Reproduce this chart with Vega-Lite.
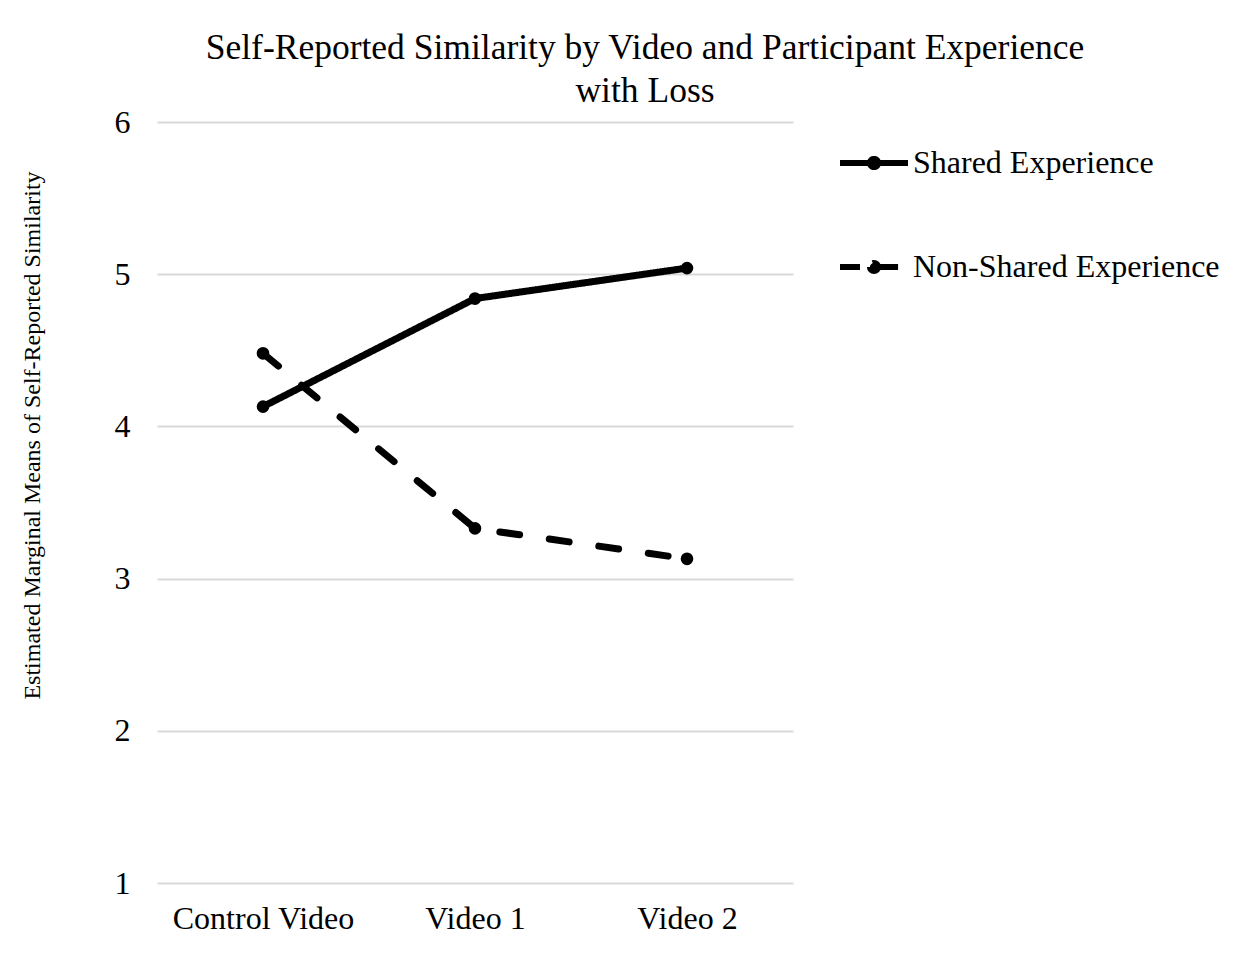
{
  "$schema": "https://vega.github.io/schema/vega-lite/v6.json",
  "width": 636,
  "height": 761,
  "autosize": {"type": "none"},
  "padding": {"left": 157, "top": 122, "right": 460, "bottom": 83},
  "background": "white",
  "title": {
    "text": ["Self-Reported Similarity by Video and Participant Experience", "with Loss"],
    "font": "Liberation Serif",
    "fontSize": 35.5,
    "fontWeight": "normal",
    "color": "black",
    "anchor": "middle",
    "dx": 170,
    "offset": -3,
    "lineHeight": 43
  },
  "data": {
    "values": [
      {"video": "Control Video", "group": "Shared Experience", "mean": 4.13},
      {"video": "Video 1", "group": "Shared Experience", "mean": 4.84},
      {"video": "Video 2", "group": "Shared Experience", "mean": 5.04},
      {"video": "Control Video", "group": "Non-Shared Experience", "mean": 4.48},
      {"video": "Video 1", "group": "Non-Shared Experience", "mean": 3.33},
      {"video": "Video 2", "group": "Non-Shared Experience", "mean": 3.13}
    ]
  },
  "encoding": {
    "x": {
      "field": "video", "type": "nominal",
      "sort": ["Control Video", "Video 1", "Video 2"],
      "scale": {"type": "point", "padding": 0.5},
      "axis": {
        "title": null, "domain": false, "ticks": false, "labelAngle": 0, "labelLimit": 0,
        "labelFont": "Liberation Serif", "labelFontSize": 32, "labelColor": "black",
        "labelPadding": 20, "grid": false
      }
    },
    "y": {
      "field": "mean", "type": "quantitative",
      "scale": {"domain": [1, 6], "nice": false, "zero": false},
      "axis": {
        "title": "Estimated Marginal Means of Self-Reported Similarity",
        "titleFont": "Liberation Serif", "titleFontSize": 24, "titleFontWeight": "normal", "titleColor": "black",
        "titleX": -113, "titleY": 313, "titleAngle": -90, "titleAlign": "center", "titleBaseline": "bottom",
        "values": [1, 2, 3, 4, 5, 6],
        "domain": false, "ticks": false,
        "labelFont": "Liberation Serif", "labelFontSize": 32, "labelColor": "black", "labelPadding": 27,
        "grid": true, "gridColor": "#d9d9d9", "gridWidth": 2
      }
    }
  },
  "layer": [
    {
      "mark": {"type": "line", "color": "black", "strokeWidth": 7, "strokeCap": "round"},
      "encoding": {
        "detail": {"field": "group"},
        "strokeDash": {
          "field": "group", "type": "nominal",
          "scale": {"domain": ["Shared Experience", "Non-Shared Experience"], "range": [[1, 0], [20, 30]]},
          "legend": {
            "title": null, "orient": "none", "legendX": 680, "legendY": 4,
            "labelFont": "Liberation Serif", "labelFontSize": 32, "labelColor": "black", "labelLimit": 0,
            "symbolType": "M-1,0L-0.12,0M0.12,0L1,0M-0.12,0A0.12,0.12 0 1,0 0.12,0A0.12,0.12 0 1,0 -0.12,0Z",
            "symbolSize": 4624, "symbolStrokeWidth": 6, "symbolStrokeColor": "black", "symbolFillColor": "black",
            "labelOffset": 2, "rowPadding": 50
          }
        }
      }
    },
    {
      "mark": {"type": "point", "filled": true, "color": "black", "size": 160, "opacity": 1},
      "encoding": {"detail": {"field": "group"}}
    }
  ],
  "config": {"view": {"stroke": null}}
}
